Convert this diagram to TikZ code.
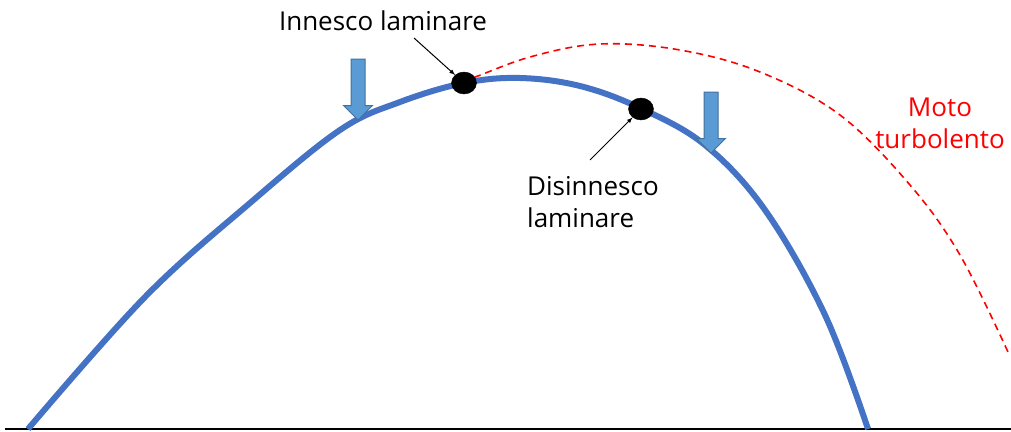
\documentclass[tikz,border=0pt]{standalone}
\usepackage{fontspec}
\setmainfont{Open Sans}
\usetikzlibrary{shapes.arrows,shapes.geometric}
\definecolor{curveblue}{HTML}{4472C4}
\definecolor{arrowfill}{HTML}{5B9BD5}
\definecolor{arrowline}{HTML}{41719C}
\tikzset{
  dot/.style={draw,ellipse,fill=black,minimum width=25pt,minimum height=22pt,inner sep=0pt},
  downarrow/.style={single arrow,draw=arrowline,fill=arrowfill,line width=1pt,rotate=-90,
    minimum height=61pt,inner xsep=0pt,inner ysep=6.5pt,single arrow head extend=7.5pt,
    single arrow tip angle=90,single arrow head indent=0pt},
  lbl/.style={font=\fontsize{26}{32}\selectfont,align=left,inner sep=0pt},
}
\begin{document}
\begin{tikzpicture}[x=1pt,y=-1pt]
	\useasboundingbox (0,0) rectangle (1011,431);
	% axis
	\draw [line width=1.5pt] (5,429) -- (1011,429);
	
	% turbulent curve
	\draw [red, line width=1.6pt, dash pattern=on 7pt off 5pt]
		plot[smooth,tension=0.6] coordinates {(405,98) (464,81) (530,57) (600,44) (680,50) (760,72) (840,115) (910,185) (960,255) (1008,352)};
	
	% laminar curve
	\draw [curveblue, line width=6pt]
		plot[smooth,tension=0.6] coordinates {(28,429) (145,297) (250,203) (340,130) (400,102) (464,83) (520,78) (580,86) (640,108) (705,145) (765,210) (825,315) (868,429)};
	
	\node[dot] (A) at (464,83) {};
	\node[dot] (B) at (641,109) {};
	
	\node[downarrow] (P) at (358,86) {};
	\node[downarrow] (Q) at (711,119) {};
	
	\node[lbl] (LA) at (383,21) {Innesco laminare};
	\node[lbl,anchor=north west] (LB) at (527,176) {Disinnesco\\laminare};
	\node[lbl,red,align=center] (LC) at (940,123) {Moto\\turbolento};
	
	\draw [-latex, line width=1pt] (414,38) -- (A);
	\draw [-latex, line width=1pt] (590,160) -- (B);
\end{tikzpicture}
\end{document}
